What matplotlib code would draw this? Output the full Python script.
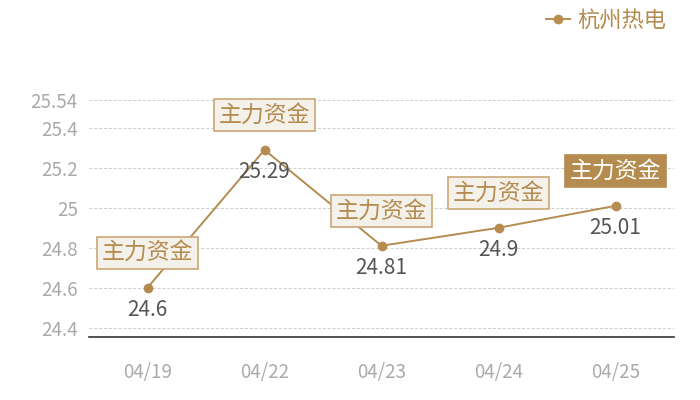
import matplotlib
matplotlib.use("Agg")
import matplotlib.pyplot as plt

categories = ["04/19", "04/22", "04/23", "04/24", "04/25"]
values = [24.6, 25.29, 24.81, 24.9, 25.01]
yticks = [24.4, 24.6, 24.8, 25.0, 25.2, 25.4, 25.54]
ytick_labels = ["24.4", "24.6", "24.8", "25", "25.2", "25.4", "25.54"]
series_name = "杭州热电"
mark_text = "主力资金"

plt.rcParams['font.family'] = ['Noto Sans CJK SC', 'DejaVu Sans']

gold = "#b58c4f"
fig = plt.figure(figsize=(7, 4), dpi=100)
ax = fig.add_axes([89/700, 1-337/400, 585/700, 237/400])

x = list(range(len(categories)))
ax.plot(x, values, color=gold, lw=1.4, marker='o', ms=6, mec=gold, mfc=gold,
        label=series_name, zorder=3)

ax.set_xlim(-0.5, len(categories) - 0.5)
ax.set_ylim(24.353, 25.54)
ax.set_xticks(x)
ax.set_xticklabels(categories, color="#aaaaaa", fontsize=13.5)
ax.set_yticks(yticks)
ax.set_yticklabels(ytick_labels, color="#aaaaaa", fontsize=13.5)
ax.tick_params(axis='both', length=0)
ax.tick_params(axis='x', pad=18)
ax.tick_params(axis='y', pad=8)
for s in ["top", "right", "left"]:
    ax.spines[s].set_visible(False)
ax.spines["bottom"].set_color("#333333")
ax.spines["bottom"].set_linewidth(1.2)
ax.grid(axis='y', color="#cccccc", linestyle=(0, (3, 2)), lw=0.7)
ax.set_axisbelow(True)

for i, v in enumerate(values):
    ax.annotate(f"{v:g}", (i, v), xytext=(0, -22), textcoords='offset pixels',
                ha='center', va='center', fontsize=15, color="#555555", zorder=4)
    last = (i == len(values) - 1)
    ax.annotate(mark_text, (i, v), xytext=(0, 35), textcoords='offset pixels',
                ha='center', va='center', fontsize=16.5,
                color="white" if last else gold, zorder=5,
                bbox=dict(boxstyle='square,pad=0.2',
                          fc=gold if last else "#f4f0ea",
                          ec=gold if last else "#c9a773", lw=1.2))

leg = ax.legend(loc='upper right', bbox_to_anchor=(677/700, 1+2/400),
                bbox_transform=fig.transFigure, frameon=False, fontsize=16,
                handlelength=1.1, handletextpad=0.3, borderpad=0)
for t in leg.get_texts():
    t.set_color(gold)

fig.savefig("out.png", dpi=100)
